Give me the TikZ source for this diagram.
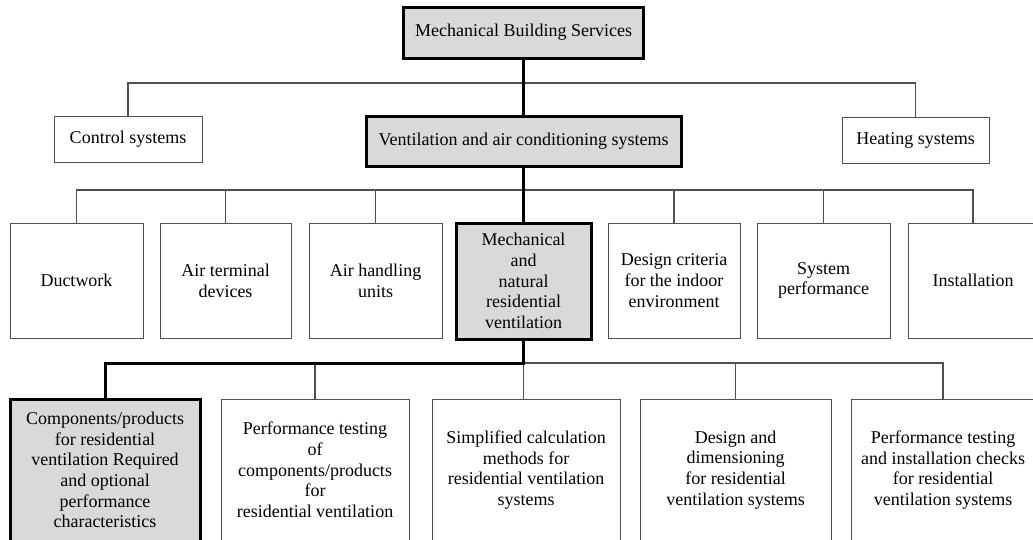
\documentclass[tikz,border=0pt]{standalone}
\usepackage{fontspec}
\setmainfont{Liberation Serif}
\definecolor{boxgray}{RGB}{217,217,217}
\definecolor{linec}{RGB}{80,80,80}
\tikzset{
  base/.style={draw=linec, line width=1pt, fill=white, align=center, inner sep=2pt,
    font=\fontsize{18}{20.7}\selectfont, text=black},
  hl/.style={base, draw=black, line width=3pt, fill=boxgray},
  thinln/.style={draw=linec, line width=1.3pt},
  thickln/.style={draw=black, line width=3pt},
}
\begin{document}
\begin{tikzpicture}[x=1pt,y=-1pt]
\useasboundingbox (0,0) rectangle (1033,539);
\begin{scope}
\clip (0,0) rectangle (1033,539);
% junctions
\coordinate (j1) at (523.5,83);
\coordinate (j2) at (523.5,190);
\coordinate (j3) at (523.5,363);

% connectors first (under boxes)
\node[hl, minimum width=240pt, minimum height=51pt] (top) at (523.5,32.5) {Mechanical Building Services};
\node[base, minimum width=148pt, minimum height=46pt] (ctrl) at (128,139) {Control systems};
\node[hl, minimum width=315pt, minimum height=50pt] (vac) at (523.5,141) {Ventilation and air conditioning systems};
\node[base, minimum width=147pt, minimum height=46pt] (heat) at (915.5,140) {Heating systems};

\node[base, minimum width=133pt, minimum height=115pt] (duct) at (76.5,280.5) {Ductwork};
\node[base, minimum width=131pt, minimum height=115pt] (term) at (225.5,280.5) {Air terminal\\devices};
\node[base, minimum width=133pt, minimum height=115pt] (ahu) at (375.5,280.5) {Air handling\\units};
\node[hl, minimum width=135pt, minimum height=116pt] (mech) at (523.5,281) {Mechanical\\and\\natural\\residential\\ventilation};
\node[base, minimum width=132pt, minimum height=115pt] (crit) at (674,280.5) {Design criteria\\for the indoor\\environment};
\node[base, minimum width=133pt, minimum height=115pt] (perf) at (823.5,280.5) {System\\performance};
\node[base, minimum width=130pt, minimum height=115pt] (inst) at (973,280.5) {Installation};

\node[hl, minimum width=190pt, minimum height=142pt] (comp) at (105,470) {Components/products\\for residential\\ventilation Required\\and optional\\performance\\characteristics};
\node[base, minimum width=188pt, minimum height=142pt] (ptest) at (315,470) {Performance testing\\of\\components/products\\for\\residential ventilation};
\node[base, minimum width=188pt, minimum height=142pt] (simp) at (526,470) {Simplified calculation\\methods for\\residential ventilation\\systems};
\node[base, minimum width=191pt, minimum height=142pt] (desd) at (735.5,470) {Design and\\dimensioning\\for residential\\ventilation systems};
\node[base, minimum width=184pt, minimum height=142pt] (pinst) at (943,470) {Performance testing\\and installation checks\\for residential\\ventilation systems};

% level 1 connectors
\draw[thinln] (ctrl.north) |- (j1) -| (heat.north);
\draw[thickln] (top.south) -- (vac.north);
% level 2 connectors
\draw[thinln] (duct.north) |- (j2) -| (inst.north);
\draw[thinln] (term.north) -- (term.north |- j2);
\draw[thinln] (ahu.north) -- (ahu.north |- j2);
\draw[thinln] (crit.north) -- (crit.north |- j2);
\draw[thinln] (perf.north) -- (perf.north |- j2);
\draw[thickln] (vac.south) -- (mech.north);
% level 3 connectors
\draw[thinln] (j3) -| (pinst.north);
\draw[thinln] (ptest.north) -- (ptest.north |- j3);
\draw[thinln] (j3) -- (j3 |- simp.north);
\draw[thinln] (desd.north) -- (desd.north |- j3);
\draw[thickln, line join=miter] (mech.south) -- (j3) -| (comp.north);
\end{scope}
\end{tikzpicture}
\end{document}
